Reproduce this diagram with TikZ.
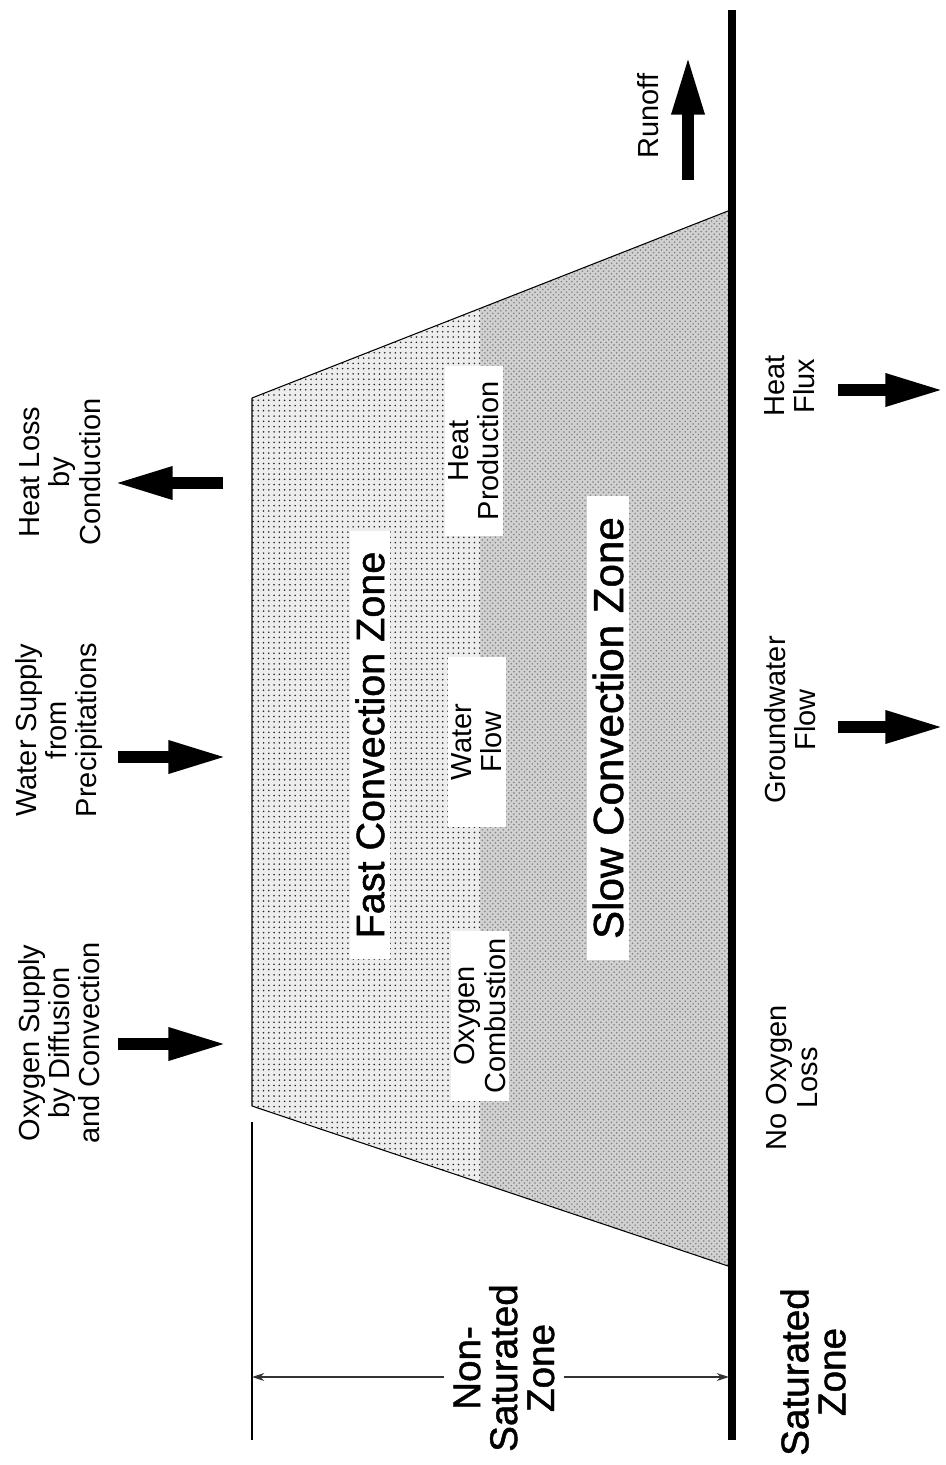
\documentclass[tikz,border=0pt]{standalone}
\usepackage{fontspec}
\setmainfont{Liberation Sans}
\newfontfamily\zonefont{Liberation Sans}[FakeBold=1.2]
\usetikzlibrary{arrows.meta,patterns}

\begin{document}
\begin{tikzpicture}[
        x=0.02cm, y=-0.02cm,
        sidetext/.style={
            rotate=90,
            align=center,
            inner sep=1pt,
            font=\fontsize{16.5}{17.2}\selectfont
        },
        zonetext/.style={sidetext, font=\zonefont\fontsize{22}{21}\selectfont},
        zonebox/.style={sidetext, fill=white, inner xsep=12pt, inner ysep=3pt,
            font=\zonefont\fontsize{22.5}{22}\selectfont},
        innerbox/.style={sidetext, fill=white, inner ysep=2pt, minimum width=97pt},
        edge/.style={line width=0.6pt, draw=black},
        ground/.style={line width=5pt, draw=black},
        bigarrow/.style={line width=7pt, -{Triangle[length=34pt,width=17pt]}},
        dimline/.style={line width=0.7pt, draw=black!80, -{Stealth[length=7pt,width=4.5pt]}}
    ]
        \useasboundingbox (0,0) rectangle (946,1465);

        % heap outline
        \coordinate (tl) at (252,398);
        \coordinate (tr) at (728,211);
        \coordinate (br) at (728,1266);
        \coordinate (bl) at (252,1106);

        \begin{scope}
            \clip (tl) -- (tr) -- (br) -- (bl) -- cycle;
            \fill[black!7] (252,200) rectangle (480,1300);
            \fill[pattern=dots, pattern color=black!85] (252,200) rectangle (480,1300);
            \fill[black!18] (480,200) rectangle (728,1300);
            \fill[pattern=crosshatch dots, pattern color=black!50] (480,200) rectangle (728,1300);
        \end{scope}
        \draw[edge] (tl) -- (tr) (bl) -- (br) (tl) -- (bl);

        % water table and left limit
        \draw[ground] (732,10) -- (732,1440);
        \draw[edge] (252,1122) -- (252,1440);

        % zones inside the heap
        \node[zonebox] (fast) at (370,745) {Fast Convection Zone};
        \node[zonebox, font=\zonefont\fontsize{24}{24}\selectfont] (slow) at (608,728) {Slow Convection Zone};
        \node[innerbox] (heatprod) at (474,451) {Heat\\Production};
        \node[innerbox] (watflow) at (477,742) {Water\\Flow};
        \node[innerbox] (oxycomb) at (480,1016) {Oxygen\\Combustion};

        % fluxes at the surface
        \node[sidetext] (oxysup) at (59,1043) {Oxygen Supply\\by Diffusion\\and Convection};
        \node[sidetext] (watsup) at (59,730) {Water Supply\\from\\Precipitations};
        \node[sidetext] (heatloss) at (60,472) {Heat Loss\\by\\Conduction};

        \coordinate (oxyA) at (118,1044);
        \coordinate (oxyB) at (228,1044);
        \coordinate (watA) at (118,757);
        \coordinate (watB) at (228,757);
        \coordinate (lossA) at (223,483);
        \coordinate (lossB) at (113,483);
        \draw[bigarrow] (oxyA) -- (oxyB);
        \draw[bigarrow] (watA) -- (watB);
        \draw[bigarrow] (lossA) -- (lossB);

        % fluxes at the base
        \node[sidetext] (runoff) at (648,116) {Runoff};
        \node[sidetext] (heatflux) at (790,386) {Heat\\Flux};
        \node[sidetext] (gwflow) at (790,720) {Groundwater\\Flow};
        \node[sidetext] (nooxy) at (792,1078) {No Oxygen\\Loss};

        \coordinate (runA) at (688,180);
        \coordinate (runB) at (688,55);
        \coordinate (fluxA) at (838,390);
        \coordinate (fluxB) at (945,390);
        \coordinate (gwA) at (838,727);
        \coordinate (gwB) at (945,727);
        \draw[bigarrow] (runA) -- (runB);
        \draw[bigarrow] (fluxA) -- (fluxB);
        \draw[bigarrow] (gwA) -- (gwB);

        % zone labels at the foot
        \node[zonetext, inner sep=5pt] (nonsat) at (504,1368) {Non-\\Saturated\\Zone};
        \node[zonetext] (sat) at (813,1372) {Saturated\\Zone};

        \coordinate (dimL) at (252,1377);
        \coordinate (dimR) at (729,1377);
        \draw[dimline] (nonsat.north |- dimL) -- (dimL);
        \draw[dimline] (nonsat.south |- dimR) -- (dimR);
    \end{tikzpicture}
\end{document}
